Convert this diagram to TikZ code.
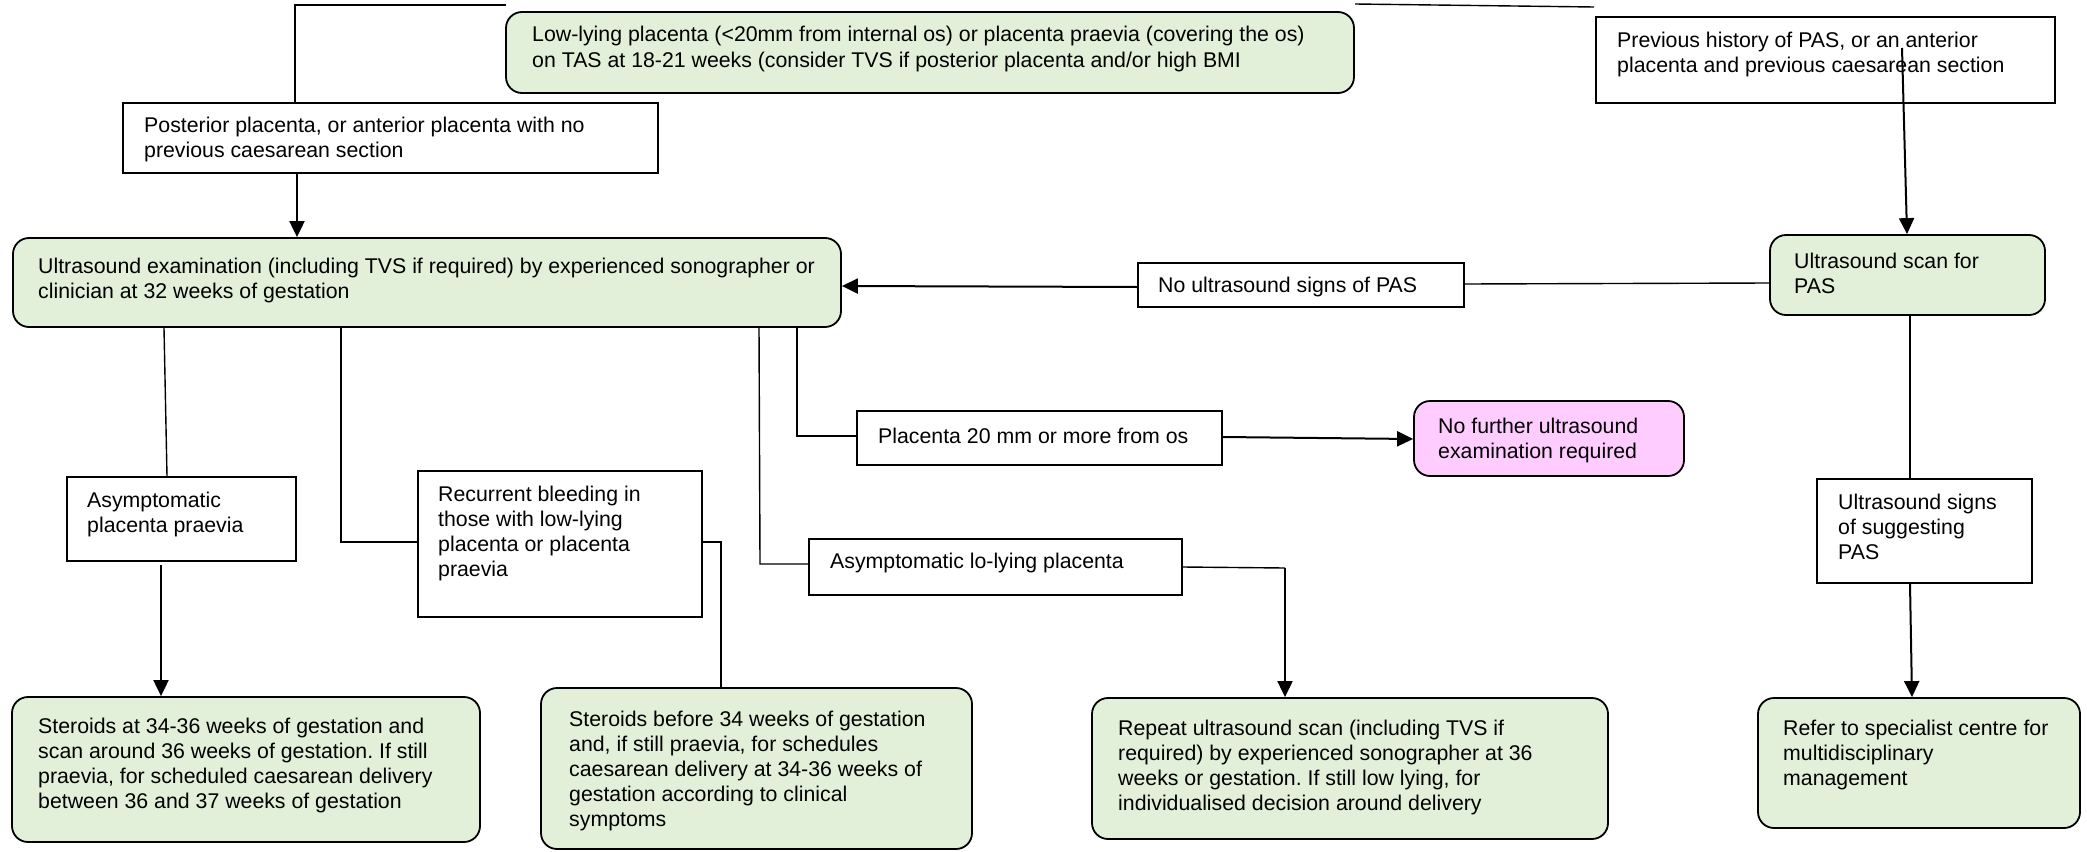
\documentclass[tikz,border=0pt]{standalone}
\usepackage{fontspec}
\setmainfont{Liberation Sans}
\usetikzlibrary{arrows.meta,fit}
\definecolor{boxgreen}{HTML}{E2EFD9}
\definecolor{boxpink}{HTML}{FFCCFF}
\newcommand{\Ln}[1]{\hbox{#1}}
\frenchspacing
\begin{document}
\begin{tikzpicture}[x=1pt,y=-1pt,
  every node/.style={font=\fontsize{21.3}{25}\selectfont},
  sbox/.style={draw, line width=1.8pt, inner sep=0pt, fill=white},
  gbox/.style={sbox, fill=boxgreen, rounded corners=16pt},
  pbox/.style={sbox, fill=boxpink, rounded corners=16pt},
  txt/.style={anchor=base west, inner sep=0pt, align=left},
  ln/.style={line width=1.4pt},
  arr/.style={line width=2pt, -{Triangle[length=16pt,width=15pt]}}]
\useasboundingbox (0,0) rectangle (2087,851);

% boxes
\node[gbox, fit={(506,12) (1354,93)}] (lowlying) {};
\node[sbox, fit={(123,103) (658,173)}] (posterior) {};
\node[sbox, fit={(1596,17) (2055,103)}] (prevhist) {};
\node[gbox, fit={(13,238) (841,327)}] (usexam) {};
\node[gbox, fit={(1770,235) (2045,315)}] (usscan) {};
\node[sbox, fit={(1138,263) (1464,307)}] (nosigns) {};
\node[sbox, fit={(67,477) (296,561)}] (asympr) {};
\node[sbox, fit={(418,471) (702,617)}] (recur) {};
\node[sbox, fit={(809,539) (1182,595)}] (asymlow) {};
\node[sbox, fit={(857,411) (1222,465)}] (pl20) {};
\node[pbox, fit={(1414,401) (1684,476)}] (nofurther) {};
\node[sbox, fit={(1817,479) (2032,583)}] (ussigns) {};
\node[gbox, fit={(12,697) (480,842)}] (ster1) {};
\node[gbox, fit={(541,688) (972,849)}] (ster2) {};
\node[gbox, fit={(1092,698) (1608,839)}] (repeat) {};
\node[gbox, fit={(1758,698) (2080,828)}] (refer) {};

% texts
\node[txt] (lowlying-t) at (532,42) {\vtop{\Ln{Low-lying placenta (<20mm from internal os) or placenta praevia (covering the os)}\Ln{on TAS at 18-21 weeks (consider TVS if posterior placenta and/or high BMI}}};
\node[txt] (posterior-t) at (144,132) {\vtop{\Ln{Posterior placenta, or anterior placenta with no}\Ln{previous caesarean section}}};
\node[txt] (prevhist-t) at (1617,48) {\vtop{\Ln{Previous history of PAS, or an anterior}\Ln{placenta and previous caesarean section}}};
\node[txt] (usexam-t) at (38,273) {\vtop{\Ln{Ultrasound examination (including TVS if required) by experienced sonographer or}\Ln{clinician at 32 weeks of gestation}}};
\node[txt] (usscan-t) at (1794,268) {\vtop{\Ln{Ultrasound scan for}\Ln{PAS}}};
\node[txt] (nosigns-t) at (1158,292) {No ultrasound signs of PAS};
\node[txt] (asympr-t) at (87,507) {\vtop{\Ln{Asymptomatic}\Ln{placenta praevia}}};
\node[txt] (recur-t) at (438,501) {\vtop{\Ln{Recurrent bleeding in}\Ln{those with low-lying}\Ln{placenta or placenta}\Ln{praevia}}};
\node[txt] (asymlow-t) at (830,568) {Asymptomatic lo-lying placenta};
\node[txt] (pl20-t) at (878,443) {Placenta 20 mm or more from os};
\node[txt] (nofurther-t) at (1438,433) {\vtop{\Ln{No further ultrasound}\Ln{examination required}}};
\node[txt] (ussigns-t) at (1838,509) {\vtop{\Ln{Ultrasound signs}\Ln{of suggesting}\Ln{PAS}}};
\node[txt] (ster1-t) at (38,733) {\vtop{\Ln{Steroids at 34-36 weeks of gestation and}\Ln{scan around 36 weeks of gestation. If still}\Ln{praevia, for scheduled caesarean delivery}\Ln{between 36 and 37 weeks of gestation}}};
\node[txt] (ster2-t) at (569,726) {\vtop{\Ln{Steroids before 34 weeks of gestation}\Ln{and, if still praevia, for schedules}\Ln{caesarean delivery at 34-36 weeks of}\Ln{gestation according to clinical}\Ln{symptoms}}};
\node[txt] (repeat-t) at (1118,735) {\vtop{\Ln{Repeat ultrasound scan (including TVS if}\Ln{required) by experienced sonographer at 36}\Ln{weeks or gestation. If still low lying, for}\Ln{individualised decision around delivery}}};
\node[txt] (refer-t) at (1783,735) {\vtop{\Ln{Refer to specialist centre for}\Ln{multidisciplinary}\Ln{management}}};

% helper coordinates
\coordinate (tlA) at (506,5);
\coordinate (tlB) at (295,5);
\coordinate (trA) at (1355,4);
\coordinate (trB) at (1594,7);
\coordinate (phA) at (1902,48);
\coordinate (c1) at (164,0);
\coordinate (c1b) at (167,0);
\coordinate (c2) at (341,542);
\coordinate (c3) at (760,564);
\coordinate (c4) at (797,436);
\coordinate (c5) at (161,565);
\coordinate (c6) at (721,542);
\coordinate (c7) at (1285,568);
\coordinate (c8) at (1910,0);
\coordinate (a1) at (297,0);

% connectors
\draw[ln] (tlA) -- (tlB) -- (tlB |- posterior.north);
\draw[ln] (trA) -- (trB);
\draw[arr] (posterior.south -| a1) -- (usexam.north -| a1);
\draw[arr] (phA) -- (usscan.north -| 1907,0);
\draw[ln] (usscan.west |- 0,283) -- (nosigns.east |- 0,284);
\draw[arr] (nosigns.west |- 0,287) -- (usexam.east |- 0,286);
\draw[ln] (usexam.south -| c1) -- (asympr.north -| c1b);
\draw[ln] (usexam.south -| c2) -- (c2) -- (recur.west |- c2);
\draw[ln] (usexam.south -| 759,0) -- (c3) -- (asymlow.west |- c3);
\draw[ln] (usexam.south -| c4) -- (c4) -- (pl20.west |- c4);
\draw[arr] (c5) -- (ster1.north -| c5);
\draw[ln] (recur.east |- c6) -- (c6) -- (ster2.north -| c6);
\draw[ln] (asymlow.east |- 0,567) -- (c7);
\draw[arr] (c7) -- (repeat.north -| c7);
\draw[arr] (pl20.east |- 0,437) -- (nofurther.west |- 0,439);
\draw[ln] (usscan.south -| c8) -- (ussigns.north -| c8);
\draw[arr] (ussigns.south -| c8) -- (refer.north -| 1912,0);
\end{tikzpicture}
\end{document}
